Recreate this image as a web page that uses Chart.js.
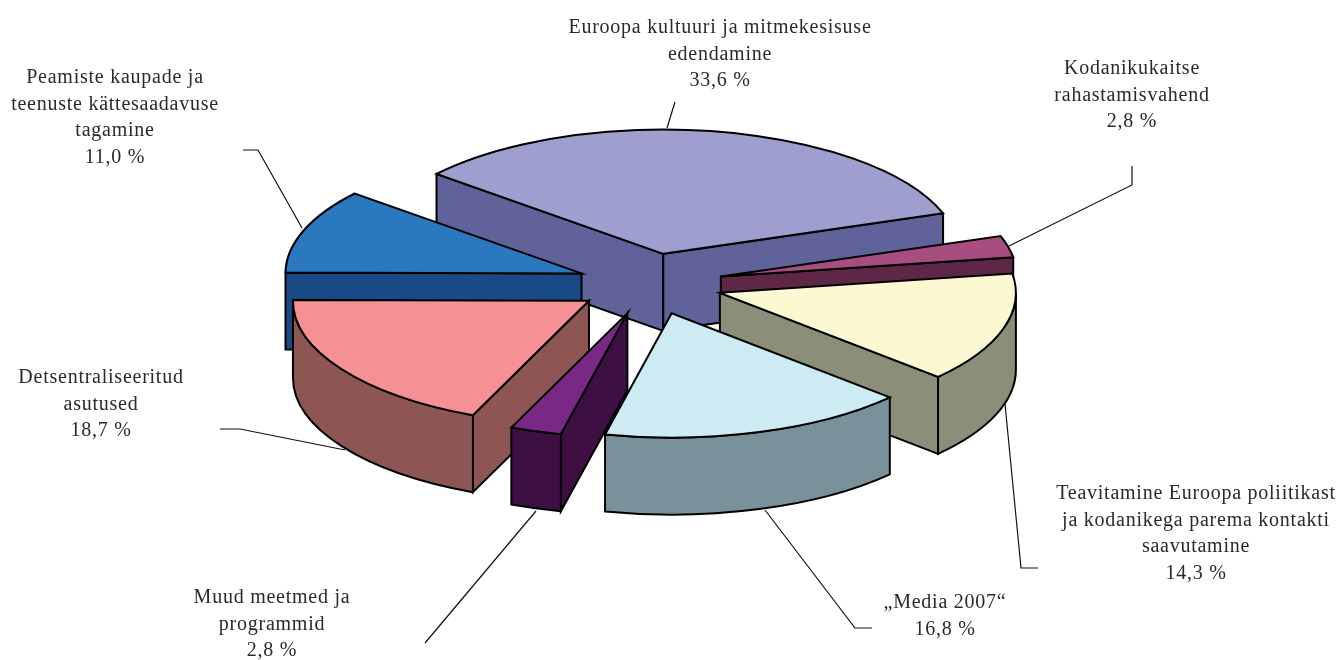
<!DOCTYPE html>
<html lang="et">
<head>
<meta charset="utf-8">
<title>Pie chart</title>
<style>
html,body{margin:0;padding:0;background:#fff;}
canvas{display:block;}
</style>
<script src="https://cdn.jsdelivr.net/npm/chart.js@4"></script>
</head>
<body>
<canvas id="c" width="1337" height="660"></canvas>
<script>
// Data
const categories = [
  "Euroopa kultuuri ja mitmekesisuse edendamine",
  "Kodanikukaitse rahastamisvahend",
  "Teavitamine Euroopa poliitikast ja kodanikega parema kontakti saavutamine",
  "„Media 2007“",
  "Muud meetmed ja programmid",
  "Detsentraliseeritud asutused",
  "Peamiste kaupade ja teenuste kättesaadavuse tagamine"
];
const shares = [33.6, 2.8, 14.3, 16.8, 2.8, 18.7, 11.0];
const shareLabels = ["33,6 %", "2,8 %", "14,3 %", "16,8 %", "2,8 %", "18,7 %", "11,0 %"];

// Styling
const topColors  = ["#9f9fcf", "#a84d80", "#fbf8d2", "#cdebf3", "#7a2886", "#f59094", "#2a79bf"];
const wallColors = ["#5f6399", "#5f2747", "#8b8e78", "#78919a", "#3e0f43", "#8e5555", "#1a4a85"];
const drawOrder = [0, 6, 1, 2, 5, 4, 3];
const tilt = 0.42, depth = 77, explode = 73, pieRadius = 296;
const CX = 650, CY = 284;

// Annotation layout (labels and leader lines)
const labelLines = [
  ["Euroopa kultuuri ja mitmekesisuse", "edendamine"],
  ["Kodanikukaitse", "rahastamisvahend"],
  ["Teavitamine Euroopa poliitikast", "ja kodanikega parema kontakti", "saavutamine"],
  ["„Media 2007“"],
  ["Muud meetmed ja", "programmid"],
  ["Detsentraliseeritud", "asutused"],
  ["Peamiste kaupade ja", "teenuste kättesaadavuse", "tagamine"]
];
const labelX = [720, 1132, 1196, 945, 272, 101, 115];
const labelY = [33, 74, 499, 608, 603, 383, 83];
const lineHeight = 26.6;
const leaders = [
  [[675,102],[667,128]],
  [[1132,166],[1132,185],[1009,246]],
  [[1038,568],[1021,568],[1005,404]],
  [[872,628],[855,628],[765,510]],
  [[425,643],[536,511]],
  [[220,429],[240,429],[345,450]],
  [[243,150],[258,150],[302,228]]
];

const pie3d = {
  id: "pie3d",
  beforeDatasetsDraw(chart) {
    const ctx = chart.ctx;
    const arcs = chart.getDatasetMeta(0).data;
    drawOrder.forEach(i => {
      const arc = arcs[i];
      const s = arc.startAngle, e = arc.endAngle, R = arc.outerRadius, Ry = R * tilt;
      const mid = (s + e) / 2;
      const ax = arc.x + Math.cos(mid) * explode;
      const ay = arc.y + Math.sin(mid) * explode * tilt;
      const rim = a => [ax + Math.cos(a) * R, ay + Math.sin(a) * Ry];
      ctx.save();
      ctx.lineWidth = 2;
      ctx.lineJoin = "miter";
      ctx.strokeStyle = "#000";
      ctx.fillStyle = wallColors[i];
      // radial faces turned towards the viewer
      const faces = [];
      if (Math.cos(s) < 0.001) faces.push(s);
      if (Math.cos(e) > 0) faces.push(e);
      faces.forEach(a => {
        const p = rim(a);
        ctx.beginPath();
        ctx.moveTo(ax, ay);
        ctx.lineTo(p[0], p[1]);
        ctx.lineTo(p[0], p[1] + depth);
        ctx.lineTo(ax, ay + depth);
        ctx.closePath();
        ctx.fill();
        ctx.stroke();
      });
      // outer wall (front half only)
      const a0 = Math.max(s, 0), a1 = Math.min(e, Math.PI);
      if (a1 > a0) {
        ctx.beginPath();
        ctx.ellipse(ax, ay, R, Ry, 0, a0, a1);
        ctx.ellipse(ax, ay + depth, R, Ry, 0, a1, a0, true);
        ctx.closePath();
        ctx.fill();
        ctx.stroke();
      }
      // top face: the library's arc element, flattened and pushed out
      ctx.save();
      ctx.translate(ax, ay);
      ctx.scale(1, tilt);
      ctx.translate(-arc.x, -arc.y);
      arc.draw(ctx);
      ctx.restore();
      ctx.beginPath();
      ctx.moveTo(ax, ay);
      ctx.ellipse(ax, ay, R, Ry, 0, s, e);
      ctx.closePath();
      ctx.stroke();
      ctx.restore();
    });
    return false;
  },
  beforeDatasetDraw() { return false; },
  afterDraw(chart) {
    const ctx = chart.ctx;
    ctx.save();
    ctx.strokeStyle = "#111";
    ctx.lineWidth = 1.2;
    leaders.forEach(path => {
      ctx.beginPath();
      path.forEach((p, k) => k ? ctx.lineTo(p[0], p[1]) : ctx.moveTo(p[0], p[1]));
      ctx.stroke();
    });
    ctx.fillStyle = "#2a2a2a";
    ctx.font = '20px "Liberation Serif", serif';
    ctx.letterSpacing = "0.75px";
    ctx.textAlign = "center";
    ctx.textBaseline = "alphabetic";
    labelLines.forEach((lines, i) => {
      const all = lines.concat(shareLabels[i]);
      all.forEach((t, k) => ctx.fillText(t, labelX[i], labelY[i] + k * lineHeight));
    });
    ctx.restore();
  }
};

new Chart(document.getElementById("c"), {
  type: "pie",
  plugins: [pie3d],
  data: {
    labels: categories,
    datasets: [{
      data: shares,
      backgroundColor: topColors,
      borderWidth: 0,
      hoverOffset: 0
    }]
  },
  options: {
    responsive: false,
    animation: false,
    rotation: -50,
    radius: pieRadius,
    layout: { padding: { right: 1337 - 2 * CX, bottom: 660 - 2 * CY } },
    events: [],
    plugins: { legend: { display: false }, tooltip: { enabled: false } }
  }
});
</script>
</body>
</html>
